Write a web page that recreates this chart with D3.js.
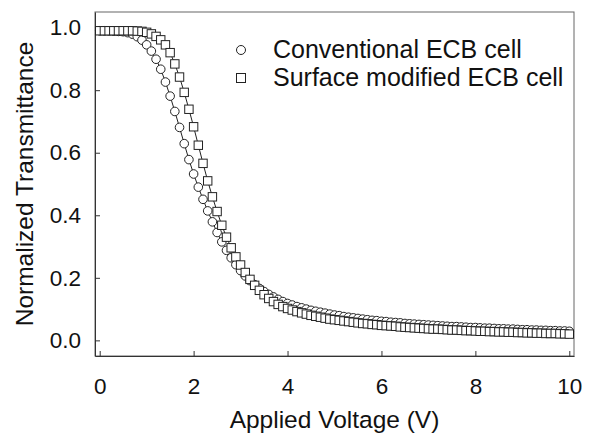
<!DOCTYPE html>
<html>
<head>
<meta charset="utf-8">
<script src="https://cdn.jsdelivr.net/npm/d3@7"></script>
<style>
  body { margin: 0; background: #fff; }
  svg { display: block; font-family: "Liberation Sans", Arial, sans-serif; }
</style>
</head>
<body>
<svg id="chart" width="591" height="437"></svg>
<script>
// Applied voltage (V), one reading every 0.1 V
const voltage = [
  0.0, 0.1, 0.2, 0.3, 0.4, 0.5, 0.6, 0.7, 0.8, 0.9,
  1.0, 1.1, 1.2, 1.3, 1.4, 1.5, 1.6, 1.7, 1.8, 1.9,
  2.0, 2.1, 2.2, 2.3, 2.4, 2.5, 2.6, 2.7, 2.8, 2.9,
  3.0, 3.1, 3.2, 3.3, 3.4, 3.5, 3.6, 3.7, 3.8, 3.9,
  4.0, 4.1, 4.2, 4.3, 4.4, 4.5, 4.6, 4.7, 4.8, 4.9,
  5.0, 5.1, 5.2, 5.3, 5.4, 5.5, 5.6, 5.7, 5.8, 5.9,
  6.0, 6.1, 6.2, 6.3, 6.4, 6.5, 6.6, 6.7, 6.8, 6.9,
  7.0, 7.1, 7.2, 7.3, 7.4, 7.5, 7.6, 7.7, 7.8, 7.9,
  8.0, 8.1, 8.2, 8.3, 8.4, 8.5, 8.6, 8.7, 8.8, 8.9,
  9.0, 9.1, 9.2, 9.3, 9.4, 9.5, 9.6, 9.7, 9.8, 9.9,
  10.0
];

// Conventional ECB cell (circles)
const conventional = [
  0.990, 0.990, 0.990, 0.989, 0.988, 0.987, 0.984, 0.979, 0.971, 0.960,
  0.945, 0.925, 0.899, 0.867, 0.826, 0.781, 0.732, 0.681, 0.629, 0.578,
  0.532, 0.490, 0.451, 0.414, 0.379, 0.345, 0.315, 0.288, 0.264, 0.242,
  0.223, 0.206, 0.191, 0.178, 0.166, 0.156, 0.147, 0.139, 0.131, 0.124,
  0.118, 0.113, 0.108, 0.104, 0.100, 0.096, 0.093, 0.090, 0.087, 0.084,
  0.081, 0.079, 0.076, 0.074, 0.072, 0.070, 0.068, 0.066, 0.064, 0.063,
  0.061, 0.060, 0.058, 0.057, 0.056, 0.054, 0.053, 0.052, 0.051, 0.050,
  0.049, 0.048, 0.047, 0.046, 0.045, 0.044, 0.044, 0.043, 0.042, 0.041,
  0.041, 0.040, 0.039, 0.039, 0.038, 0.037, 0.037, 0.036, 0.036, 0.035,
  0.034, 0.034, 0.033, 0.033, 0.032, 0.032, 0.031, 0.031, 0.030, 0.030,
  0.029
];

// Surface modified ECB cell (squares)
const surfaceModified = [
  0.990, 0.990, 0.990, 0.990, 0.990, 0.990, 0.990, 0.990, 0.989, 0.988,
  0.985, 0.980, 0.972, 0.961, 0.945, 0.920, 0.884, 0.842, 0.793, 0.739,
  0.683, 0.624, 0.566, 0.510, 0.459, 0.412, 0.368, 0.330, 0.296, 0.267,
  0.241, 0.217, 0.195, 0.176, 0.160, 0.146, 0.134, 0.124, 0.115, 0.108,
  0.102, 0.097, 0.092, 0.088, 0.084, 0.080, 0.077, 0.074, 0.071, 0.068,
  0.066, 0.064, 0.062, 0.060, 0.058, 0.056, 0.054, 0.053, 0.051, 0.050,
  0.048, 0.047, 0.046, 0.045, 0.043, 0.042, 0.041, 0.040, 0.039, 0.038,
  0.037, 0.036, 0.036, 0.035, 0.034, 0.033, 0.033, 0.032, 0.031, 0.031,
  0.030, 0.029, 0.029, 0.028, 0.028, 0.027, 0.027, 0.026, 0.026, 0.025,
  0.025, 0.024, 0.024, 0.023, 0.023, 0.022, 0.022, 0.022, 0.021, 0.021,
  0.020
];

const seriesNames = ["Conventional ECB cell", "Surface modified ECB cell"];
const xTicks = [0, 2, 4, 6, 8, 10];
const yTicks = [0.0, 0.2, 0.4, 0.6, 0.8, 1.0];

const box = { left: 95, top: 12, right: 574, bottom: 356 };
const svg = d3.select("#chart");

const x = d3.scaleLinear().domain([-0.1, 10.1]).range([box.left, box.right]);
const y = d3.scaleLinear().domain([-0.05, 1.05]).range([box.bottom, box.top]);

// Frame: top/right lighter, left/bottom axes darker
svg.append("rect")
  .attr("x", box.left).attr("y", box.top)
  .attr("width", box.right - box.left).attr("height", box.bottom - box.top)
  .attr("fill", "none").attr("stroke", "#666").attr("stroke-width", 1);

// Axes with ticks pointing into the plot
const xAxis = svg.append("g")
  .attr("transform", `translate(0,${box.bottom})`)
  .call(d3.axisBottom(x).tickValues(xTicks).tickSizeInner(-5).tickSizeOuter(0)
    .tickPadding(22).tickFormat(d3.format("d")));
const yAxis = svg.append("g")
  .attr("transform", `translate(${box.left},0)`)
  .call(d3.axisLeft(y).tickValues(yTicks).tickSizeInner(-5).tickSizeOuter(0)
    .tickPadding(14).tickFormat(d3.format(".1f")));

[xAxis, yAxis].forEach(a => {
  a.select(".domain").attr("stroke", "#333");
  a.selectAll(".tick line").attr("stroke", "#333");
  a.selectAll(".tick text")
    .style("font-family", "'Liberation Sans', Arial, sans-serif")
    .style("font-size", "22.5px").attr("fill", "#111");
});

// Axis titles
svg.append("text")
  .attr("x", (box.left + box.right) / 2).attr("y", 428)
  .attr("text-anchor", "middle")
  .style("font-size", "24.5px").attr("fill", "#111")
  .text("Applied Voltage (V)");
svg.append("text")
  .attr("transform", `translate(33,${(box.top + box.bottom) / 2}) rotate(-90)`)
  .attr("text-anchor", "middle")
  .style("font-size", "24.5px").attr("fill", "#111")
  .text("Normalized Transmittance");

const plot = svg.append("g");
const line = d3.line().x(d => x(d[0])).y(d => y(d[1]));

const circ = voltage.map((v, i) => [v, conventional[i]]);
const sq = voltage.map((v, i) => [v, surfaceModified[i]]);

// Conventional: line then circles
plot.append("path").datum(circ).attr("d", line)
  .attr("fill", "none").attr("stroke", "#222").attr("stroke-width", 1);
plot.selectAll(".pt-c").data(circ).enter().append("circle")
  .attr("cx", d => x(d[0])).attr("cy", d => y(d[1])).attr("r", 4.3)
  .attr("fill", "#fff").attr("stroke", "#222").attr("stroke-width", 1);

// Surface modified: line then squares
const s = 8.4;
plot.append("path").datum(sq).attr("d", line)
  .attr("fill", "none").attr("stroke", "#222").attr("stroke-width", 1);
plot.selectAll(".pt-s").data(sq).enter().append("rect")
  .attr("x", d => x(d[0]) - s / 2).attr("y", d => y(d[1]) - s / 2)
  .attr("width", s).attr("height", s)
  .attr("fill", "#fff").attr("stroke", "#222").attr("stroke-width", 1);

// Legend
const legend = svg.append("g");
legend.append("circle").attr("cx", 241).attr("cy", 50).attr("r", 4.5)
  .attr("fill", "#fff").attr("stroke", "#222");
legend.append("rect").attr("x", 241 - 4.5).attr("y", 78 - 4.5).attr("width", 9).attr("height", 9)
  .attr("fill", "#fff").attr("stroke", "#222");
legend.selectAll(".lt").data(seriesNames).enter().append("text")
  .attr("x", 273).attr("y", (d, i) => 58 + i * 28)
  .style("font-size", "25px").attr("fill", "#111")
  .text(d => d);
</script>
</body>
</html>
